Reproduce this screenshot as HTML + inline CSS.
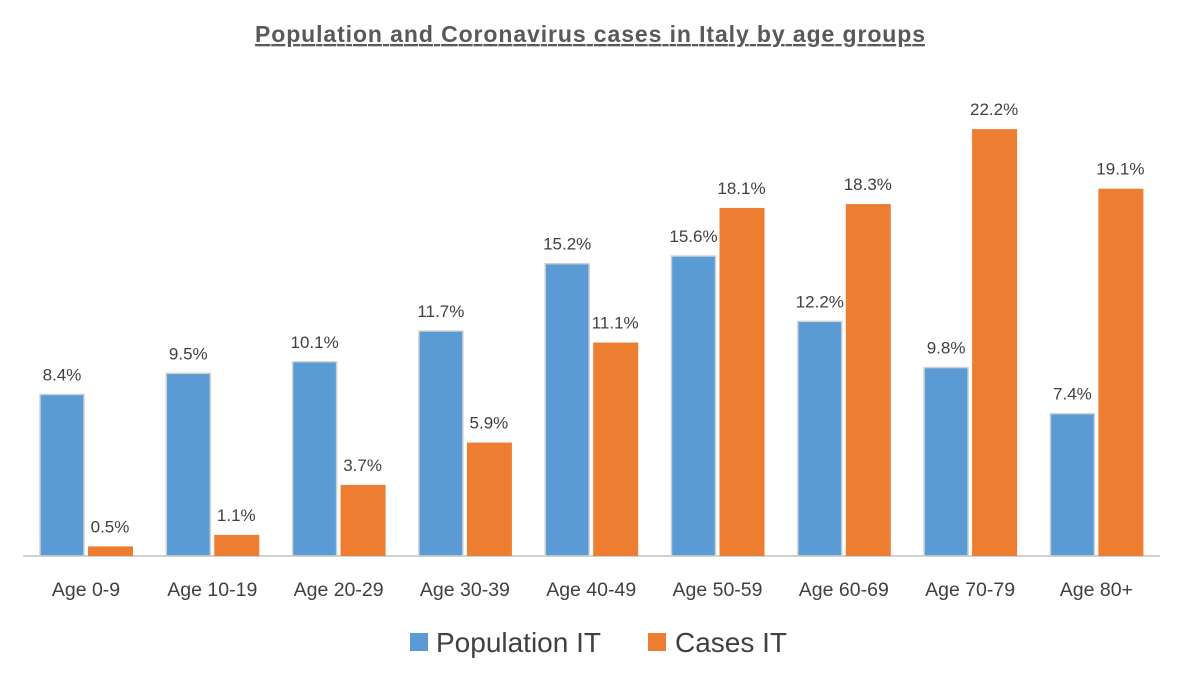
<!DOCTYPE html>
<html><head><meta charset="utf-8"><style>
body{margin:0;background:#fff;}
svg{display:block;font-family:"Liberation Sans",sans-serif;}
</style></head><body>
<svg id="c" width="1181" height="682">
<text x="590" y="42" text-anchor="middle" font-size="23" font-weight="bold" fill="#595959" text-decoration="underline" textLength="670" lengthAdjust="spacing">Population and Coronavirus cases in Italy by age groups</text>
<line x1="23" y1="556" x2="1160" y2="556" stroke="#d0d0d0" stroke-width="2"/>
<g id="bars"></g>
<rect x="410" y="633" width="18" height="18" fill="#5B9BD5"/>
<text x="436" y="652" font-size="28" fill="#404040">Population IT</text>
<rect x="648" y="633" width="18" height="18" fill="#ED7D31"/>
<text x="675" y="652" font-size="28" fill="#404040">Cases IT</text>
</svg>
<script>
const categories=["Age 0-9","Age 10-19","Age 20-29","Age 30-39","Age 40-49","Age 50-59","Age 60-69","Age 70-79","Age 80+"];
const population=[8.4,9.5,10.1,11.7,15.2,15.6,12.2,9.8,7.4];
const cases=[0.5,1.1,3.7,5.9,11.1,18.1,18.3,22.2,19.1];
const NS="http://www.w3.org/2000/svg";
const g=document.getElementById('bars');
const base=556,scale=19.23;
function y(v){return base-v*scale;}
function xg(i){return 40+i*126.3;}
function mk(t,a){const e=document.createElementNS(NS,t);for(const k in a)e.setAttribute(k,a[k]);g.appendChild(e);return e;}
categories.forEach((c,i)=>{
  const x=xg(i);
  const b=mk('rect',{x:x,y:y(population[i]),width:44,height:base-y(population[i]),fill:'#5B9BD5',stroke:'#d0d0d0','stroke-width':1.5});
  
  
  const o=mk('rect',{x:x+48,y:y(cases[i]),width:45,height:base-y(cases[i]),fill:'#ED7D31'});
  
  
  const t1=mk('text',{x:x+22,y:y(population[i])-14,'text-anchor':'middle','font-size':17,fill:'#404040'});
  t1.textContent=population[i].toFixed(1)+'%';
  
  
  const t2=mk('text',{x:x+70,y:y(cases[i])-14,'text-anchor':'middle','font-size':17,fill:'#404040'});
  t2.textContent=cases[i].toFixed(1)+'%';
  
  
  const cl=mk('text',{x:x+46,y:596,'text-anchor':'middle','font-size':19.5,fill:'#404040'});
  cl.textContent=c;
  
  
});
</script>
</body></html>
